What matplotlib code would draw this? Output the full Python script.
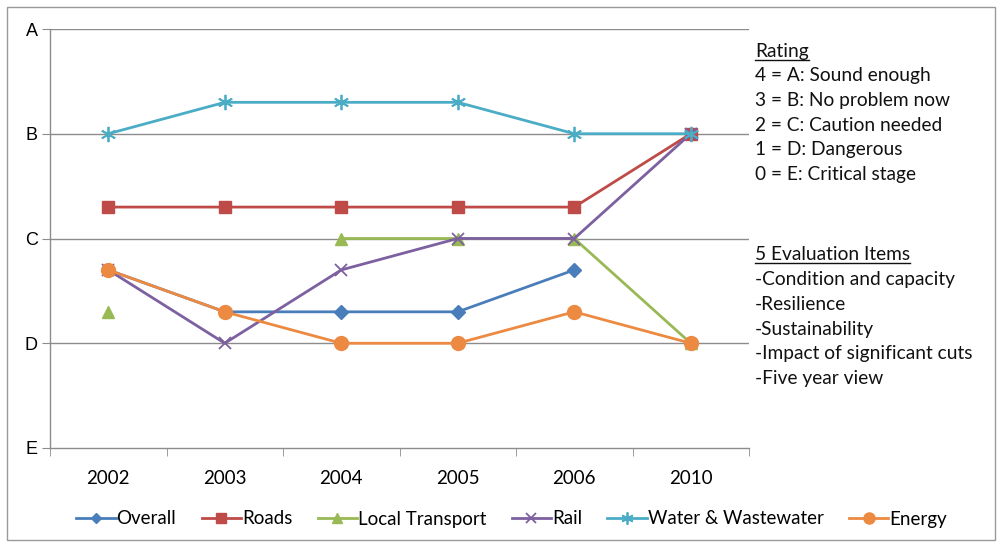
import numpy as np
import matplotlib
matplotlib.use("Agg")
import matplotlib.pyplot as plt
from matplotlib.lines import Line2D
from matplotlib.patches import Rectangle

years = ["2002", "2003", "2004", "2005", "2006", "2010"]
grade_labels = ["E", "D", "C", "B", "A"]

overall = [1.7, 1.3, 1.3, 1.3, 1.7, np.nan]
roads = [2.3, 2.3, 2.3, 2.3, 2.3, 3.0]
local_transport = [1.3, np.nan, 2.0, 2.0, 2.0, 1.0]
rail = [1.7, 1.0, 1.7, 2.0, 2.0, 3.0]
water = [3.0, 3.3, 3.3, 3.3, 3.0, 3.0]
energy = [1.7, 1.3, 1.0, 1.0, 1.3, 1.0]

rating_lines = ["4 = A: Sound enough", "3 = B: No problem now", "2 = C: Caution needed",
                "1 = D: Dangerous", "0 = E: Critical stage"]
item_lines = ["-Condition and capacity", "-Resilience", "-Sustainability",
              "-Impact of significant cuts", "-Five year view"]

W, H = 1001, 545
fig = plt.figure(figsize=(W / 100, H / 100), dpi=100)
fig.patch.set_facecolor("white")
fig.patches.append(Rectangle((7 / W, 1 - 540 / H), 988 / W, 533 / H, transform=fig.transFigure,
                             fill=False, edgecolor="#9a9a9a", linewidth=1.0))

ax = fig.add_axes([50 / W, 1 - 448 / H, 699 / W, 419 / H])
x = np.arange(len(years))

series = [
    ("Overall", overall, "#4A7EBB", "D", 7, 1.0),
    ("Roads", roads, "#BE4B48", "s", 9, 1.0),
    ("Local Transport", local_transport, "#98B954", "^", 9, 1.0),
    ("Rail", rail, "#7D60A0", "x", 9, 1.3),
    ("Water & Wastewater", water, "#4BACC6", (6, 2, 0), 11, 1.3),
    ("Energy", energy, "#EC8A42", "o", 10, 1.0),
]
handles = []
for name, vals, col, mk, ms, mew in series:
    ax.plot(x, vals, color=col, lw=2.0, marker=mk, markersize=ms,
            markeredgewidth=mew, markerfacecolor=col, markeredgecolor=col,
            label=name, solid_joinstyle="round")
    handles.append(Line2D([], [], color=col, lw=2.0, marker=mk, markersize=ms * 0.8,
                          markeredgewidth=mew, markerfacecolor=col, markeredgecolor=col))

ax.set_xlim(-0.5, len(years) - 0.5)
ax.set_ylim(0, 4)
ax.set_yticks(range(5))
ax.set_yticklabels(grade_labels, fontsize=13, family="Liberation Sans")
for yv in range(1, 5):
    ax.axhline(yv, color="#8c8c8c", lw=1.0, zorder=0)
ax.set_xticks(x)
ax.set_xticklabels(years, fontsize=13.5, family="Lato")
ax.set_xticks(np.arange(-0.5, len(years)), minor=True)
ax.tick_params(axis="x", which="major", length=0, pad=16)
ax.tick_params(axis="x", which="minor", length=6, color="#8c8c8c", direction="out")
ax.tick_params(axis="y", length=6, color="#8c8c8c", direction="out", pad=3)
for s in ["top", "right"]:
    ax.spines[s].set_visible(False)
for s in ["left", "bottom"]:
    ax.spines[s].set_color("#8c8c8c")
    ax.spines[s].set_linewidth(1.0)

fig.legend(handles, [s[0] for s in series], loc="center", bbox_to_anchor=(0.511, 1 - 519 / H),
           ncol=6, frameon=False, prop={"family": "Lato", "size": 13.5},
           handlelength=2.1, columnspacing=1.35, handletextpad=0.05)

text_kw = dict(fontsize=13.8, family="Lato", color="#111111", va="baseline", ha="left")
x0 = 755 / W
heads = []
heads.append(fig.text(x0, 1 - 57 / H, "Rating", **text_kw))
for i, t in enumerate(rating_lines):
    fig.text(x0, 1 - (81 + 24.8 * i) / H, t, **text_kw)
heads.append(fig.text(x0, 1 - 260 / H, "5 Evaluation Items", **text_kw))
for i, t in enumerate(item_lines):
    fig.text(x0, 1 - (285 + 24.8 * i) / H, t, **text_kw)

fig.canvas.draw()
renderer = fig.canvas.get_renderer()
for h in heads:
    bb = h.get_window_extent(renderer).transformed(fig.transFigure.inverted())
    xb, yb = h.get_position()
    yl = yb - 3 / H
    fig.add_artist(Line2D([bb.x0, bb.x1], [yl, yl], transform=fig.transFigure,
                          color="#111111", lw=1.0))

fig.savefig("out.png", dpi=100)
